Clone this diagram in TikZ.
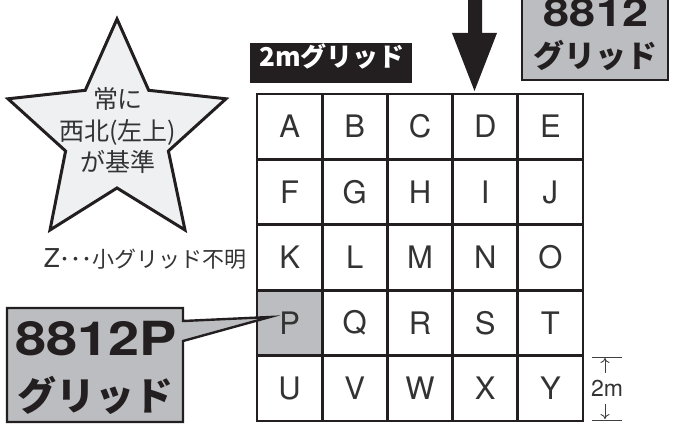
\documentclass[tikz,border=0pt]{standalone}
\usepackage{fontspec}
\setmainfont{Noto Sans CJK JP}
\newfontfamily\latinfont{TeX Gyre Heros}
\usetikzlibrary{arrows.meta}
\definecolor{gridgray}{HTML}{BCBDC0}
\definecolor{starfill}{HTML}{EFF0F2}
\definecolor{ink}{HTML}{231F20}
\definecolor{txt}{HTML}{333333}
\newcommand{\fsz}[1]{\fontsize{#1}{#1}\selectfont}
\tikzset{
  cell/.style={draw=ink, line width=2.8pt, minimum width=65.2pt, minimum height=65.4pt,
    inner sep=0pt, text=txt, font=\latinfont\fsz{31}},
  graybox/.style={draw=ink, line width=2.4pt, fill=gridgray, line join=miter},
  bigtxt/.style={text=ink, inner sep=0pt, anchor=base},
  dimline/.style={draw=black!75, line width=0.9pt},
}
\begin{document}
\begin{tikzpicture}[x=1pt,y=-1pt]
\useasboundingbox (0,0) rectangle (678,425);

% grid
\fill[gridgray] (257,289.2) rectangle (322.2,354.6);
\foreach \l [count=\i from 0] in {A,B,C,D,E,F,G,H,I,J,K,L,M,N,O,P,Q,R,S,T,U,V,W,X,Y}{
  \pgfmathsetmacro\cx{257+65.2*(mod(\i,5)+0.5)}
  \pgfmathsetmacro\cy{93+65.4*(int(\i/5)+0.5)+1}
  \node[cell] (cell\l) at (\cx,\cy) {\l};
}

% 2m grid label
\fill[ink] (250,43) rectangle (412,83);
\node[bigtxt, text=white, font=\fsz{26}\bfseries] (gridlabel) at (332,67) {2mグリッド};

% arrow down to D
\fill[ink] (468,-2) -- (482,-2) -- (482,33) -- (497,33) -- (474.5,91) -- (452,33) -- (468,33) -- cycle;

% top right box
\draw[graybox] (522,-6) rectangle (668,80);
\node[bigtxt, font=\latinfont\fsz{39}\bfseries] (top8812) at (596,27) {\scalebox{1.2}[1]{8812}};
\node[bigtxt, font=\fsz{31}\bfseries] (topgrid) at (595.5,68) {グリッド};

% star
\draw[fill=starfill, draw=ink, line width=3pt, line join=miter]
  (117,19) -- (148.7,90.3) -- (226,98.8) -- (168.4,151) -- (185,230) -- (117,188)
  -- (50,230) -- (65.6,151) -- (8,98.8) -- (85.3,90.3) -- cycle;
\node[text=txt, align=center, font=\fontsize{25}{31.5}\selectfont] (startext) at (118,131)
  {常に\\西北(左上)\\が基準};

% Z note
\node[text=txt, inner sep=0pt, anchor=base east] (znote) at (247,267)
  {{\latinfont\fsz{26}Z}{\fsz{22}･･･小グリッド不明}};

% callout 8812P
\draw[graybox] (7,308) -- (183,308) -- (183,321) -- (270,317) -- (183,341) -- (183,422) -- (7,422) -- cycle;
\node[bigtxt, font=\latinfont\fsz{47}\bfseries] (p8812) at (96,355) {\scalebox{1.19}[1]{8812P}};
\node[bigtxt, font=\fsz{39}\bfseries] (pgrid) at (95.5,410) {グリッド};

% dimension
\draw[dimline] (592,357) -- (622,357);
\draw[dimline] (592,420) -- (622,420);
\node[text=txt, font=\latinfont\fsz{23}, inner sep=0pt] (dimlabel) at (607,388) {2m};
\coordinate (dimtop) at (605,358);
\coordinate (dimbot) at (605,419);
\coordinate (dimtopstart) at (605,373);
\coordinate (dimbotstart) at (605,404);
\draw[dimline, -{To[length=5pt,width=9pt]}] (dimtopstart) -- (dimtop);
\draw[dimline, -{To[length=5pt,width=9pt]}] (dimbotstart) -- (dimbot);
\end{tikzpicture}
\end{document}
